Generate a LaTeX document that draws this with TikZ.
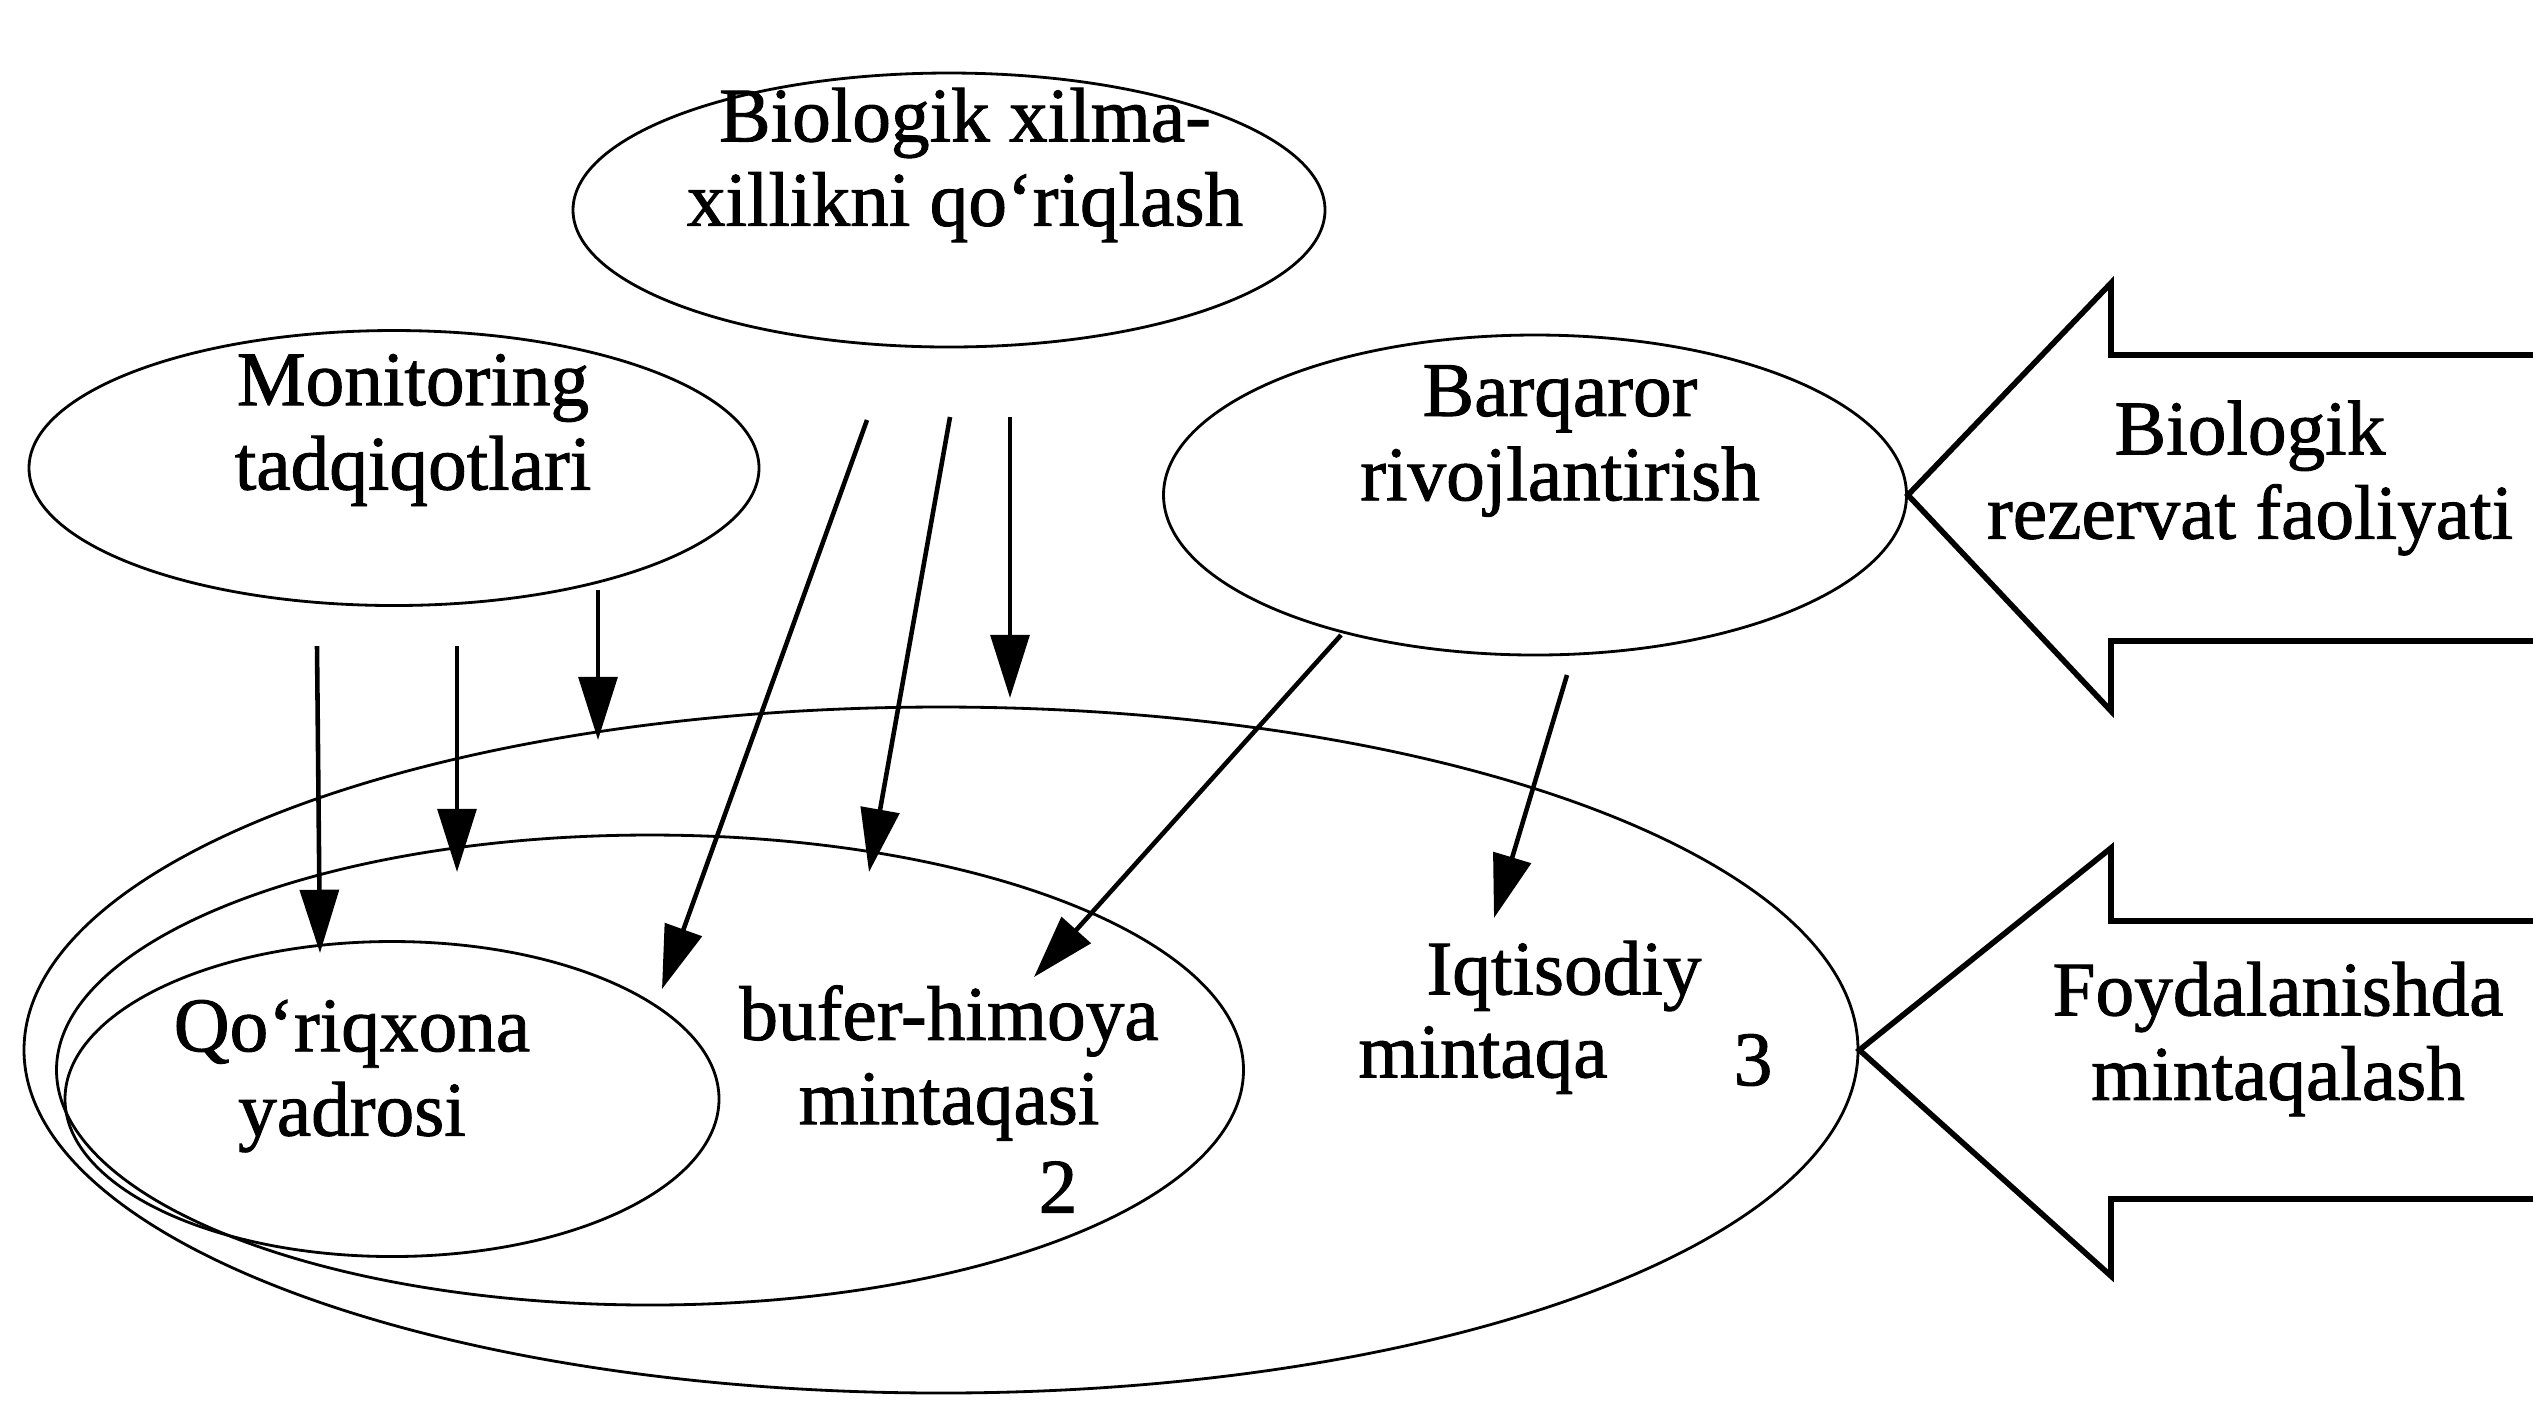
\documentclass[tikz,border=0pt]{standalone}
\usepackage{fontspec}
\setmainfont{Liberation Serif}[BoldFont={Liberation Serif}, BoldFeatures={FakeBold=1.2}]
\usetikzlibrary{shapes.geometric,arrows.meta,positioning}

\tikzset{
  zone/.style={draw, ellipse, line width=0.8pt, inner sep=0pt},
  lbl/.style={align=center, inner sep=0pt, font=\fontsize{22}{24}\selectfont\bfseries},
  link/.style={line width=1.3pt, -{Triangle[length=18pt,width=11pt]}},
  bigarrow/.style={line width=1.6pt, line join=miter},
}

\begin{document}
\begin{tikzpicture}[x=0.1mm,y=-0.1mm]
        \useasboundingbox (0,0) rectangle (2533,1415);

        % zones of the reserve
        \node[zone, minimum width=183.4mm, minimum height=68.6mm] (z3) at (941,1050) {};
        \node[zone, minimum width=118.7mm, minimum height=47mm] (z2) at (650,1070) {};
        \node[zone, minimum width=65.4mm, minimum height=31.5mm] (z1) at (392,1099) {};

        % tasks
        \node[zone, minimum width=75.2mm, minimum height=27.4mm] (bio) at (949,210) {};
        \node[zone, minimum width=73mm, minimum height=27.5mm] (mon) at (394,468) {};
        \node[zone, minimum width=74.3mm, minimum height=32mm] (barq) at (1535,495) {};

        \node[lbl] (biot) at (965,165) {Biologik xilma-\\xillikni qo‘riqlash};
        \node[lbl] (mont) at (413,430) {Monitoring\\tadqiqotlari};
        \node[lbl] (barqt) at (1560,441) {Barqaror\\rivojlantirish};

        \node[lbl] (z1t) at (352,1076) {Qo‘riqxona\\yadrosi};
        \node[lbl] (z2t) at (949,1063) {bufer-himoya\\mintaqasi};
        \node[lbl] (z2n) at (1058,1187) {2};
        \node[lbl] (z3t) at (1564,976) {Iqtisodiy};
        \node[lbl] (z3m) at (1483,1060) {mintaqa};
        \node[lbl] (z3n) at (1753,1060) {3};

        % big arrows on the right
        \draw[bigarrow] (2540,355) -- (2111,355) -- (2111,283) -- (barq.east)
          -- (2111,711) -- (2111,641) -- (2540,641);
        \draw[bigarrow] (2540,921) -- (2111,921) -- (2111,848) -- (z3.east)
          -- (2111,1276) -- (2111,1199) -- (2540,1199);
        \node[lbl] (act) at (2250,478) {Biologik\\rezervat faoliyati};
        \node[lbl] (zon) at (2278,1039) {Foydalanishda\\mintaqalash};

        % arrow ends
        \coordinate (m1) at (317,646);   \coordinate (m1x) at (320,953);
        \coordinate (m2) at (457,646);   \coordinate (m2x) at (457,872);
        \coordinate (m3) at (598,590);   \coordinate (m3x) at (598,740);
        \coordinate (b1) at (867,420);   \coordinate (b1x) at (662,989);
        \coordinate (b2) at (950,417);   \coordinate (b2x) at (869,872);
        \coordinate (b3) at (1010,417);  \coordinate (b3x) at (1010,698);
        \coordinate (r1) at (1341,635);  \coordinate (r1x) at (1034,977);
        \coordinate (r2) at (1567,675);  \coordinate (r2x) at (1494,918);

        \draw[link] (m1) -- (m1x);
        \draw[link] (m2) -- (m2x);
        \draw[link] (m3) -- (m3x);
        \draw[link] (b1) -- (b1x);
        \draw[link] (b2) -- (b2x);
        \draw[link] (b3) -- (b3x);
        \draw[link] (r1) -- (r1x);
        \draw[link] (r2) -- (r2x);

\end{tikzpicture}
\end{document}
